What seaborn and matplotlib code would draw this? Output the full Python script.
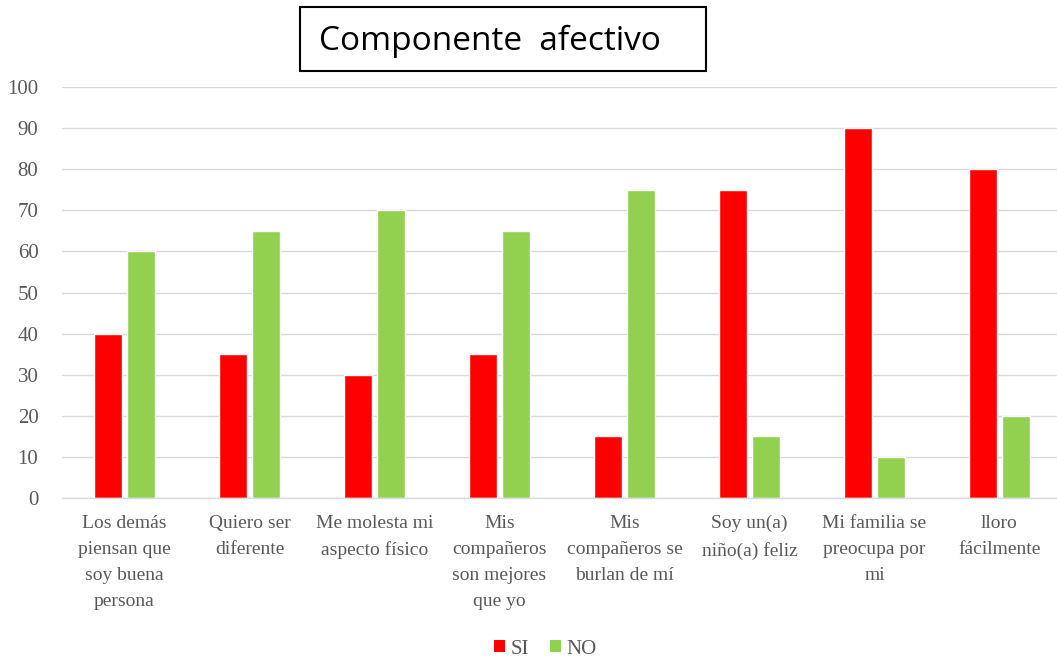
import matplotlib
matplotlib.use("Agg")
import matplotlib.pyplot as plt
import seaborn as sns
import pandas as pd
from matplotlib.patches import Patch, Rectangle

categories = [
    "Los demás\npiensan que\nsoy buena\npersona",
    "Quiero ser\ndiferente",
    "Me molesta mi\naspecto físico",
    "Mis\ncompañeros\nson mejores\nque yo",
    "Mis\ncompañeros se\nburlan de mí",
    "Soy un(a)\nniño(a) feliz",
    "Mi familia se\npreocupa por\nmi",
    "lloro\nfácilmente",
]
si_values = [40, 35, 30, 35, 15, 75, 90, 80]
no_values = [60, 65, 70, 65, 75, 15, 10, 20]
series_names = ["SI", "NO"]
y_ticks = [0, 10, 20, 30, 40, 50, 60, 70, 80, 90, 100]

df = pd.DataFrame({
    "cat": categories * 2,
    "serie": [series_names[0]] * len(categories) + [series_names[1]] * len(categories),
    "valor": si_values + no_values,
})

sns.set_theme(style="white")
plt.rcParams['font.family'] = ['Liberation Serif', 'DejaVu Serif']

W, H = 1057, 661
colors = {"SI": "#FF0000", "NO": "#92D050"}
fig = plt.figure(figsize=(W / 100, H / 100), dpi=100)
ax = fig.add_axes([62 / W, 1 - 498 / H, 1000 / W, 411 / H])

sns.barplot(data=df, x="cat", y="valor", hue="serie", palette=colors,
            width=0.514, gap=0.125, ax=ax, legend=False, saturation=1)

ax.set_ylim(0, 100)
ax.set_xlim(-0.5, len(categories) - 0.5)
ax.set_yticks(y_ticks)
ax.yaxis.grid(True, color="#D9D9D9", linewidth=1)
ax.set_axisbelow(True)
for s in ["top", "right", "left"]:
    ax.spines[s].set_visible(False)
ax.spines["bottom"].set_color("#D9D9D9")
ax.spines["bottom"].set_linewidth(1)
ax.set_xlabel("")
ax.set_ylabel("")
ax.tick_params(axis="both", length=0, colors="#595959")
ax.tick_params(axis="x", labelsize=14, pad=12)
ax.tick_params(axis="y", labelsize=15, pad=17)
for lbl in ax.get_xticklabels():
    lbl.set_linespacing(1.7)
    lbl.set_verticalalignment("top")

handles = [Patch(facecolor=colors[n], edgecolor="none", label=n) for n in series_names]
fig.legend(handles=handles, loc="center", bbox_to_anchor=(545 / W, 1 - 649 / H), ncol=2,
           frameon=False, fontsize=15, handlelength=0.55, handleheight=0.55,
           handletextpad=0.25, columnspacing=1.0, labelcolor="#595959")

fig.patches.append(Rectangle((300 / W, 1 - 71 / H), 406 / W, 64 / H,
                             transform=fig.transFigure, facecolor="white",
                             edgecolor="black", linewidth=1.5, zorder=5))
fig.text(490 / W, 1 - 41 / H, "Componente  afectivo", fontsize=24,
         family=["Open Sans", "DejaVu Sans"], ha="center", va="center",
         color="black", zorder=6)

fig.savefig("out.png", dpi=100)
